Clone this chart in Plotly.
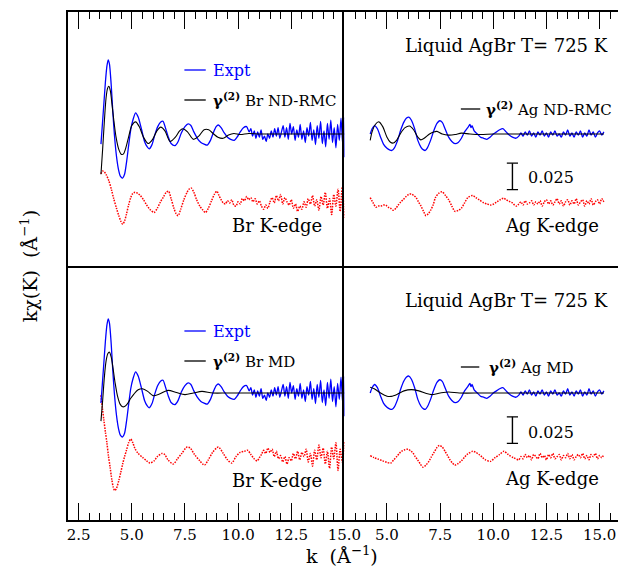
import plotly.graph_objects as go
from plotly.subplots import make_subplots

# k in 1/Angstrom ; k*chi(k) values in units of 1e-3 1/Angstrom

# ---------------- Br edge -----------------
br_expt_k = [3.55, 3.66, 3.76, 3.83, 3.89, 3.95, 4.03, 4.10, 4.18, 4.28,
             4.38, 4.47, 4.57, 4.66, 4.76, 4.86, 4.95, 5.05, 5.18, 5.30,
             5.45, 5.60, 5.72, 5.82, 5.95, 6.08, 6.22, 6.35, 6.47, 6.58,
             6.72, 6.85, 7.03, 7.18, 7.33, 7.50, 7.65, 7.78, 7.92, 8.08,
             8.25, 8.40, 8.55, 8.70, 8.85, 8.97, 9.07, 9.20, 9.35, 9.50,
             9.65, 9.82, 9.95, 10.10, 10.25, 10.40,
             10.52, 10.60, 10.68, 10.76, 10.84, 10.92, 11.00, 11.08, 11.16, 11.24,
             11.32, 11.40, 11.48, 11.56, 11.64, 11.72, 11.80, 11.88, 11.96, 12.04,
             12.12, 12.20, 12.28, 12.36, 12.44, 12.52, 12.60, 12.68, 12.76, 12.84,
             12.92, 13.00, 13.08, 13.16, 13.24, 13.32, 13.40, 13.48, 13.56, 13.64,
             13.72, 13.80, 13.88, 13.96, 14.04, 14.12, 14.20, 14.28, 14.36, 14.44,
             14.52, 14.60, 14.68, 14.76, 14.84, 14.92, 14.97, 15.00]
br_expt_y = [-9.5, 21, 49, 64, 70, 66, 47, 23.5, 0, -21,
             -34, -40, -41.5, -38, -25.5, -9.5, 4, 13, 20, 16,
             5, -7, -12, -14, -10, -1, 7, 11, 12, 6,
             -3, -9, -11, -7, 1, 7, 9.5, 8, 2, -4,
             -8, -9.5, -10.5, -6, 2, 7, 8.5, 6, 1, -3,
             -5, -6, -3, 2, 6, 7,
             2, 5, -2, 3, -4, 2, -3, 4, -5, -2,
             -7, 0, -4, 3, -3, 5, -2, 6, -4, 2,
             8, -3, 6, -5, 10, 0, 7, -6, 4, -3,
             9, -5, 3, -8, 6, -2, 11, -6, 4, -10,
             8, -4, 12, -9, 3, -12, 10, -5, 13, -8,
             6, -13, 9, -6, 15, -10, 16, -22]

br_rmc_k = [3.55, 3.63, 3.71, 3.79, 3.86, 3.92, 3.99, 4.07, 4.16, 4.26,
            4.38, 4.50, 4.60, 4.72, 4.86, 5.00, 5.18, 5.35, 5.55, 5.77,
            5.98, 6.18, 6.36, 6.56, 6.80, 7.05, 7.25, 7.40, 7.62, 7.90,
            8.15, 8.40, 8.62, 8.85, 9.05, 9.30, 9.55, 9.80, 10.10, 10.50,
            11.0, 12.0, 13.0, 14.0, 15.0]
br_rmc_y = [-38, -14, 12, 34, 43, 45, 41, 28, 12, -3,
            -14, -19, -19, -13, -2, 8, 11.5, 7, -3, -9,
            -5, 3, 6.5, 3, -7, -3, 3, 5, 2, -5,
            -2, 4, 4, 0, -3, -4, -1, 0.5, -0.5, 0.5,
            0, 0, 0, 0, 0]

br_md_k = [3.55, 3.63, 3.71, 3.79, 3.87, 3.95, 4.03, 4.12, 4.22, 4.33,
           4.45, 4.57, 4.68, 4.80, 4.95, 5.10, 5.30, 5.50, 5.75, 6.00,
           6.30, 6.70, 7.10, 7.50, 7.90, 8.30, 8.80, 9.50, 11.0, 13.0,
           15.0]
br_md_y = [-26.5, -7, 15, 30, 37, 38.5, 34, 23, 9, -3,
           -10.5, -13, -12.5, -10, -5, -1, 3, 4, 1.5, -2.5,
           -1, 2.5, 0.5, -1.5, 0, 1.5, 0, 0, 0, 0,
           0]

br_kedge_rmc_k = [3.55, 3.62, 3.70, 3.80, 3.92, 4.05, 4.15, 4.28, 4.38, 4.48,
                  4.57, 4.66, 4.75, 4.85, 4.95, 5.05, 5.15, 5.28, 5.40, 5.55,
                  5.70, 5.85, 6.05, 6.20, 6.35, 6.50, 6.62, 6.73, 6.85, 6.98,
                  7.08, 7.18, 7.30, 7.45, 7.60, 7.72, 7.80, 7.92, 8.05, 8.20,
                  8.35, 8.47, 8.60, 8.75, 8.88, 9.00, 9.10, 9.20, 9.30,
                  9.4, 9.5, 9.6, 9.7, 9.8, 9.9, 10.0, 10.1, 10.2, 10.3,
                  10.4, 10.5, 10.6, 10.7, 10.8, 10.9, 11.0, 11.1, 11.2, 11.3,
                  11.4, 11.5, 11.6, 11.7, 11.8, 11.9, 12.0, 12.1, 12.2, 12.3,
                  12.4, 12.5, 12.6, 12.7, 12.8, 12.9, 13.0, 13.1, 13.2, 13.3,
                  13.4, 13.5, 13.6, 13.7, 13.8, 13.9, 14.0, 14.1, 14.2, 14.3,
                  14.4, 14.5, 14.6, 14.7, 14.8, 14.9, 15.0]
br_kedge_rmc_y = [26.5, 29, 28.5, 25.5, 20, 11, 3, -6, -12.5, -18,
                  -21, -18, -11.5, -3, 4, 8, 9, 8, 6, 2,
                  -3, -7, -10, -6, 0, 5, 9, 10, 3, -6,
                  -11, -13, -7, 2, 9, 12.5, 13, 9, 2, -4,
                  -8, -10, -6, 1, 7, 10, 6, 2, -1,
                  -2, 1, -1, 2, -3, -4, 0, -2, 3, 1,
                  5, 2, 4, 0, 3, -2, 1, -4, -7, -3,
                  -6, 0, 4, -1, 6, 1, 7, -2, 4, 0,
                  -3, 2, -6, -2, -9, -4, -7, 0, -5, 3,
                  -2, 6, -4, 2, -8, 5, -3, 9, -6, 3,
                  -12, 7, -4, 12, -9, 14, -15]

br_kedge_md_k = [3.55, 3.62, 3.69, 3.76, 3.83, 3.90, 3.98, 4.06, 4.13, 4.20,
                 4.28, 4.39, 4.48, 4.57, 4.66, 4.75, 4.85, 4.95, 5.05, 5.14,
                 5.30, 5.52, 5.70, 5.85, 6.05, 6.20, 6.42, 6.55, 6.70, 6.95,
                 7.15, 7.35, 7.60, 7.75, 7.95, 8.20, 8.42, 8.60, 8.80, 9.07,
                 9.30, 9.50, 9.70, 9.90, 10.10, 10.30, 10.44, 10.60, 10.75, 10.90,
                 11.0, 11.1, 11.2, 11.3, 11.4, 11.5, 11.6, 11.7, 11.8, 11.9,
                 12.0, 12.1, 12.2, 12.3, 12.4, 12.5, 12.6, 12.7, 12.8, 12.9,
                 13.0, 13.1, 13.2, 13.3, 13.4, 13.5, 13.6, 13.7, 13.8, 13.9,
                 14.0, 14.1, 14.2, 14.3, 14.4, 14.5, 14.6, 14.7, 14.8, 14.9,
                 15.0]
br_kedge_md_y = [55, 42.5, 31, 20, 10, -2, -13, -24.5, -32, -35,
                 -33, -25.5, -18, -10, -3, 3, 10, 13.5, 10, 5,
                 0, -4, -7, -9, -7, -3, 0, -1, -6, -10,
                 -5, 0, 6, 5, -1, -7, -11, -6, 1, 6,
                 0, -6, -9, -3, 1, 2, 3, -1, -5, -7,
                 -4, -1, 3, 0, 5, 1, 4, -3, 2, -5,
                 -2, -8, -3, -10, -4, -7, 0, -5, 2, -6,
                 1, -3, 4, -8, 0, -12, 3, -6, 8, -4,
                 5, -10, 2, -14, 6, -5, 10, -16, 4, -8,
                 12]

# ---------------- Ag edge -----------------
ag_expt_k = [4.21, 4.30, 4.42, 4.55, 4.70, 4.85, 5.00, 5.12, 5.23, 5.35,
             5.50, 5.65, 5.80, 5.92, 6.03, 6.15, 6.30, 6.45, 6.60, 6.72,
             6.80, 6.90, 7.05, 7.20, 7.35, 7.48, 7.60, 7.75, 7.90, 8.05,
             8.20, 8.35, 8.50, 8.65, 8.80, 8.90, 8.95, 9.00, 9.10, 9.25,
             9.40, 9.55, 9.70, 9.85, 10.00, 10.15, 10.30, 10.45, 10.60, 10.75,
             10.90, 11.05, 11.20,
             11.3, 11.4, 11.5, 11.6, 11.7, 11.8, 11.9, 12.0, 12.1, 12.2,
             12.3, 12.4, 12.5, 12.6, 12.7, 12.8, 12.9, 13.0, 13.1, 13.2,
             13.3, 13.4, 13.5, 13.6, 13.7, 13.8, 13.9, 14.0, 14.1, 14.2,
             14.3, 14.4, 14.5, 14.6, 14.7, 14.8, 14.9, 15.0, 15.1, 15.2]
ag_expt_y = [0, 5, 8, 5, -3, -10, -13.5, -15, -15.5, -13,
             -6, 4, 11.5, 15, 16, 13, 5, -6, -12.5, -15,
             -15.5, -13, -6, 3, 10, 12.5, 11, 4, -3, -7,
             -9, -8, -4, 2, 6, 9, 6, 8, 3, 0,
             -3, -4, -5, -3, 0, 2, 4, 5, 2, -1,
             -3, -4, -2,
             1, -2, 2, -1, 3, -2, 1, -3, 2, -1,
             3, -2, 1, -3, 2, -1, 3, -2, 0, -3,
             2, -1, 4, -2, 1, -3, 2, -1, 3, -3,
             1, -2, 4, -1, 2, -3, 1, 3, -1, 2]

ag_rmc_k = [4.21, 4.30, 4.45, 4.62, 4.80, 5.00, 5.15, 5.30, 5.45, 5.65,
            5.85, 6.06, 6.25, 6.45, 6.59, 6.75, 7.00, 7.20, 7.35, 7.60,
            7.90, 8.20, 8.50, 8.90, 9.40, 10.00, 11.0, 12.5, 14.0, 15.2]
ag_rmc_y = [-6, 2, 9, 11.5, 7, -3, -7.5, -8.5, -6, 1,
            6, 7.5, 4, -3, -5.5, -4, 0, 2, 2.5, 0,
            -1, -0.5, 0.8, 0, -0.5, 0, 0, 0, 0, 0]

ag_md_k = [4.21, 4.40, 4.70, 5.00, 5.20, 5.50, 5.80, 6.15, 6.50, 6.85,
           7.10, 7.50, 7.90, 8.40, 9.5, 11.0, 13.0, 15.2]
ag_md_y = [5.5, 4, 0, -3, -3.2, -1, 2, 3.2, 2, -0.5,
           -1.5, 0, 1, 0, 0, 0, 0, 0]

ag_kedge_rmc_k = [4.21, 4.35, 4.48, 4.60, 4.71, 4.83, 4.94, 5.05, 5.16, 5.30,
                  5.42, 5.53, 5.65, 5.76, 5.90, 6.02, 6.14, 6.26, 6.37, 6.48,
                  6.60, 6.72, 6.83, 6.95, 7.05, 7.17, 7.28, 7.43, 7.59, 7.75,
                  7.90, 8.05, 8.20, 8.35, 8.50, 8.65, 8.80, 9.03, 9.18, 9.33,
                  9.56, 9.72, 9.87, 10.02, 10.17, 10.32, 10.48,
                  10.6, 10.7, 10.8, 10.9, 11.0, 11.1, 11.2, 11.3, 11.4, 11.5,
                  11.6, 11.7, 11.8, 11.9, 12.0, 12.1, 12.2, 12.3, 12.4, 12.5,
                  12.6, 12.7, 12.8, 12.9, 13.0, 13.1, 13.2, 13.3, 13.4, 13.5,
                  13.6, 13.7, 13.8, 13.9, 14.0, 14.1, 14.2, 14.3, 14.4, 14.5,
                  14.6, 14.7, 14.8, 14.9, 15.0, 15.1, 15.2]
ag_kedge_rmc_y = [5, 0, -4, -3, -3, -2, -2, -4, -5, -7,
                  -5, -2, 1, 3, 6, 8, 8.5, 7, 5, 1,
                  -3, -8, -12, -10, -7, -2, 5, 9, 10.5, 7,
                  3, -3, -8, -7, -5, 0, 5, 7, 5, 3,
                  0, -1, -2, -1, 1, 3, 4.5,
                  3, 2, 1, 0, -2, -3, -1, 1, -2, 2,
                  -1, 0, 2, -2, 1, -1, 2, -3, 1, 3,
                  -1, 2, -2, 1, 4, -1, 2, -3, 1, 3,
                  -2, 2, -1, 4, -2, 1, 3, -3, 2, -1,
                  4, -2, 1, 3, -1, 4, 1]

ag_kedge_md_k = [4.21, 4.40, 4.60, 4.80, 5.00, 5.18, 5.32, 5.46, 5.58, 5.69,
                 5.84, 5.99, 6.11, 6.22, 6.33, 6.44, 6.57, 6.70, 6.83, 6.97,
                 7.08, 7.20, 7.33, 7.46, 7.60, 7.73, 7.85, 7.96, 8.08, 8.19,
                 8.35, 8.50, 8.65, 8.80, 9.03, 9.18, 9.33, 9.48, 9.63, 9.86,
                 10.08, 10.30, 10.50, 10.70, 10.95, 11.20,
                 11.3, 11.4, 11.5, 11.6, 11.7, 11.8, 11.9, 12.0, 12.1, 12.2,
                 12.3, 12.4, 12.5, 12.6, 12.7, 12.8, 12.9, 13.0, 13.1, 13.2,
                 13.3, 13.4, 13.5, 13.6, 13.7, 13.8, 13.9, 14.0, 14.1, 14.2,
                 14.3, 14.4, 14.5, 14.6, 14.7, 14.8, 14.9, 15.0, 15.1, 15.2]
ag_kedge_md_y = [1, -1, -2.5, -4, -5.5, -6, -3, 0, 3, 5,
                 6.5, 7, 5.5, 3.5, 0, -3, -7, -10, -8, -4.5,
                 -0.5, 3.5, 8, 10.5, 9, 5, 1, -3, -6, -8,
                 -6.5, -4, -0.5, 2.5, 5, 4, 2, -0.5, -3, -4.5,
                 -1, 2, 5, 2, -1, -3,
                 0, -2, 2, -1, 1, -3, 2, 0, -2, 3,
                 -1, 1, -3, 2, -1, 3, -2, 0, 2, -3,
                 1, -1, 3, -2, 2, -3, 0, 2, -1, 3,
                 -2, 1, -3, 2, 0, 3, -2, 1, -1, 2]

# vertical offsets of the K-edge curves (same units)
kedge_offset = {(1, 1): -64, (1, 2): -65, (2, 1): -57, (2, 2): -60}
scale_bar_k = 10.9
scale_bar_len = 25          # = 0.025 1/Angstrom
scale_bar_top = {1: -27.5, 2: -22.5}

x_tick_vals = [2.5, 5.0, 7.5, 10.0, 12.5, 15.0]

BLUE = "#0000ff"
RED = "#ff0000"
FONT = "DejaVu Serif"

# plot area in page pixels: x 68..635, y 12..520
PA_L, PA_R, PA_T, PA_B = 68, 635, 12, 520
PA_W = PA_R - PA_L
PA_H = PA_B - PA_T
SPLIT = 353            # divider between the Br and Ag panels
PX_PER_K = 21.92

fig = make_subplots(rows=2, cols=2,
                    column_widths=[(SPLIT - PA_L) / PA_W, (PA_R - SPLIT) / PA_W],
                    horizontal_spacing=0, vertical_spacing=0)

panels = {
    (1, 1): (br_expt_k, br_expt_y, br_rmc_k, br_rmc_y, br_kedge_rmc_k, br_kedge_rmc_y),
    (2, 1): (br_expt_k, br_expt_y, br_md_k, br_md_y, br_kedge_md_k, br_kedge_md_y),
    (1, 2): (ag_expt_k, ag_expt_y, ag_rmc_k, ag_rmc_y, ag_kedge_rmc_k, ag_kedge_rmc_y),
    (2, 2): (ag_expt_k, ag_expt_y, ag_md_k, ag_md_y, ag_kedge_md_k, ag_kedge_md_y),
}

for (r, c), (ek, ey, mk, my, rk, ry) in panels.items():
    off = kedge_offset[(r, c)]
    fig.add_trace(go.Scatter(x=rk, y=[v + off for v in ry], mode="lines",
                             line=dict(color=RED, width=1.5, dash="1.5px,1.2px",
                                       shape="spline", smoothing=0.8),
                             showlegend=False, hoverinfo="skip"), row=r, col=c)
    fig.add_trace(go.Scatter(x=ek, y=ey, mode="lines",
                             line=dict(color=BLUE, width=1.3, shape="spline", smoothing=0.7),
                             showlegend=False, hoverinfo="skip"), row=r, col=c)
    fig.add_trace(go.Scatter(x=mk, y=my, mode="lines",
                             line=dict(color="black", width=1.1, shape="spline", smoothing=0.8),
                             showlegend=False, hoverinfo="skip"), row=r, col=c)

# scale bars in the right panels
for r in (1, 2):
    top = scale_bar_top[r]
    fig.add_trace(go.Scatter(x=[scale_bar_k, scale_bar_k], y=[top, top - scale_bar_len],
                             mode="lines+markers",
                             line=dict(color="black", width=1.4),
                             marker=dict(symbol="line-ew", size=8,
                                         line=dict(width=1.4, color="black")),
                             showlegend=False, hoverinfo="skip"), row=r, col=2)

x_ranges = {1: [2.0, 2.0 + (SPLIT - PA_L) / PX_PER_K],
            2: [3.0, 3.0 + (PA_R - SPLIT) / PX_PER_K]}
y_ranges = {1: [-124.5, 115.1], 2: [-119.8, 119.8]}

for r in (1, 2):
    for c in (1, 2):
        fig.update_xaxes(row=r, col=c, range=x_ranges[c],
                         side="top" if r == 1 else "bottom",
                         ticks="inside", ticklen=17, tickwidth=1.2, tickcolor="black",
                         tickmode="array", tickvals=x_tick_vals,
                         ticktext=[f"{v:.1f}" for v in x_tick_vals],
                         showticklabels=(r == 2),
                         tickfont=dict(family=FONT, size=15, color="black"),
                         minor=dict(ticks="inside", ticklen=7, tickwidth=1.0,
                                    tickcolor="black", dtick=0.5, tick0=0, showgrid=False),
                         showline=True, linewidth=1.5, linecolor="black",
                         mirror=(r == 1),
                         showgrid=False, zeroline=False)
        fig.update_yaxes(row=r, col=c, range=y_ranges[r],
                         showline=True, linewidth=1.5, linecolor="black",
                         mirror=False, ticks="", showticklabels=False,
                         showgrid=False, zeroline=False)


def px_x(px):
    return (px - PA_L) / PA_W


def px_y(py):
    return (PA_B - py) / PA_H


ann = []


def text(s, x, y, anchor="left", size=16, color="black", angle=0):
    ann.append(dict(text=s, x=px_x(x), y=px_y(y), xref="paper", yref="paper",
                    xanchor=anchor, yanchor="middle", showarrow=False, textangle=angle,
                    font=dict(family=FONT, size=size, color=color)))


g = "<b>γ<sup>(2)</sup></b>"
# top-left
text("Expt", 215, 70, color=BLUE)
text(g + " Br ND-RMC", 215, 100, size=15)
text("Br K-edge", 332, 225, anchor="right", size=18)
# top-right
text("Liquid AgBr T= 725 K", 627, 45, anchor="right", size=18)
text(g + " Ag ND-RMC", 497, 109, size=15)
text("0.025", 540, 177, size=16)
text("Ag K-edge", 617, 225, anchor="right", size=18)
# bottom-left
text("Expt", 215, 331, color=BLUE)
text(g + " Br MD", 215, 361, size=15)
text("Br K-edge", 332, 480, anchor="right", size=18)
# bottom-right
text("Liquid AgBr T= 725 K", 627, 300, anchor="right", size=18)
text(g + " Ag MD", 500, 367, size=15)
text("0.025", 540, 432, size=16)
text("Ag K-edge", 617, 478, anchor="right", size=18)
# axis titles
ann.append(dict(text="k  (Å<sup>−1</sup>)", x=px_x(350), y=px_y(555), xref="paper", yref="paper",
                xanchor="center", yanchor="middle", showarrow=False,
                font=dict(family=FONT, size=19, color="black")))
ann.append(dict(text="kχ(K)  (Å<sup>−1</sup>)", x=px_x(28), y=px_y(266), xref="paper", yref="paper",
                xanchor="center", yanchor="middle", showarrow=False, textangle=-90,
                font=dict(family=FONT, size=19, color="black")))

shapes = []
for (x0, x1, y, col) in [(188, 210, 70, BLUE), (188, 210, 100, "black"),
                         (473, 493, 109, "black"),
                         (188, 210, 331, BLUE), (188, 210, 361, "black"),
                         (473, 492, 367, "black")]:
    shapes.append(dict(type="line", xref="paper", yref="paper",
                       x0=px_x(x0), x1=px_x(x1), y0=px_y(y), y1=px_y(y),
                       line=dict(color=col, width=1.3)))

fig.update_layout(width=635, height=573, autosize=False,
                  margin=dict(l=PA_L, r=635 - PA_R, t=PA_T, b=573 - PA_B),
                  paper_bgcolor="white", plot_bgcolor="white",
                  annotations=ann, shapes=shapes, showlegend=False)

# remove the default 8 px page margin so the figure sits at the window's corner
fig.write_html("out.html",
               config={"displayModeBar": False},
               post_script="document.body.style.margin='0';"
                           "document.body.style.overflow='hidden';")
